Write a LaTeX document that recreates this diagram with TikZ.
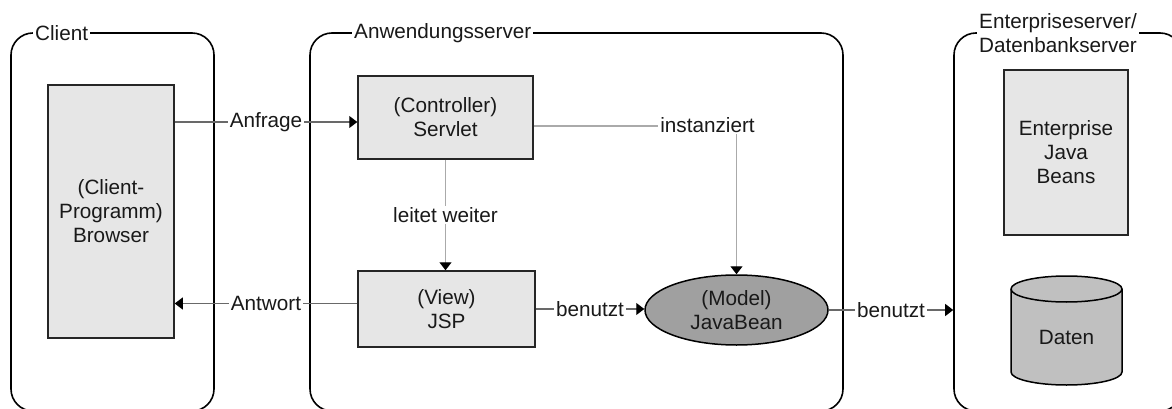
\documentclass[tikz,border=0pt]{standalone}
\usepackage{fontspec}
\setmainfont{Liberation Sans}
\usetikzlibrary{arrows.meta,shapes.geometric}
\definecolor{boxfill}{RGB}{230,230,230}
\definecolor{modelfill}{RGB}{160,160,160}
\definecolor{dbfill}{RGB}{192,192,192}
\definecolor{txt}{RGB}{25,25,25}
\definecolor{darkline}{RGB}{105,105,105}
\definecolor{lightline}{RGB}{170,170,170}
\begin{document}
\begin{tikzpicture}[x=1pt,y=1pt,
  font=\fontsize{20.7}{24}\selectfont, text=txt,
  container/.style={draw=black, line width=1.6pt, rounded corners=22pt, inner sep=0pt},
  box/.style={draw=black!85, line width=1.5pt, fill=boxfill, align=center, inner sep=0pt},
  title/.style={fill=white, inner xsep=2pt, inner ysep=1pt},
  lbl/.style={fill=white, inner xsep=2pt, inner ysep=1pt},
  conn/.style={draw=darkline, line width=1.1pt},
  conn2/.style={draw=lightline, line width=1.4pt},
  arr/.style={-{Triangle[length=8pt,width=12pt,color=black]}}
]
\clip (0,0) rectangle (1172,-409);
\fill[white] (0,0) rectangle (1172,-409);

% containers
\node[container, minimum width=203pt, minimum height=378pt] (client) at (112.5,-222) {};
\node[container, minimum width=533pt, minimum height=378pt] (anw) at (576.5,-222) {};
\node[container, minimum width=228pt, minimum height=378pt] (ent) at (1068,-222) {};

\node[title, anchor=west] (tclient) at (33,-33) {Client};
\node[title, anchor=west] (tanw) at (352,-33) {Anwendungsserver};
\node[title, align=center] (tent) at (1058,-33.5) {Enterpriseserver/\\Datenbankserver};

% boxes
\node[box, minimum width=126pt, minimum height=253pt] (browser) at (111,-211.5) {(Client-\\Programm)\\Browser};
\node[box, minimum width=175pt, minimum height=83pt] (servlet) at (445.5,-117.5) {(Controller)\\Servlet};
\node[box, minimum width=177pt, minimum height=76pt] (jsp) at (446.5,-309) {(View)\\JSP};
\node[ellipse, draw=black, line width=1.5pt, fill=modelfill, align=center, inner sep=0pt,
      minimum width=183pt, minimum height=70pt] (model) at (736.5,-310) {(Model)\\JavaBean};
\node[box, minimum width=124pt, minimum height=165pt] (ejb) at (1066,-152.5) {Enterprise\\Java\\Beans};

% database cylinder
\path[draw=black, line width=1.5pt, fill=dbfill]
  (1011,-289) -- (1011,-372)
  arc[start angle=180, end angle=360, x radius=55.5pt, y radius=13pt]
  -- (1122,-289)
  arc[start angle=0, end angle=180, x radius=55.5pt, y radius=13pt] -- cycle;
\draw[black, line width=1.5pt] (1011,-289)
  arc[start angle=180, end angle=360, x radius=55.5pt, y radius=13pt];
\node (daten) at (1066.5,-337) {Daten};

% connectors
\coordinate (aR) at ([yshift=-4.5pt]servlet.west);
\draw[conn, arr] (aR -| browser.east) -- node[lbl] {Anfrage} (aR);

\coordinate (wL) at ([yshift=5.5pt]jsp.west);
\draw[conn, arr] (wL) -- node[lbl] {Antwort} (wL -| browser.east);

\draw[conn2, arr] (servlet.south) -- node[lbl] {leitet weiter} (servlet.south |- jsp.north);

\coordinate (iS) at ([yshift=-8.5pt]servlet.east);
\draw[conn2, arr] (iS) -| (model.north);
\node[lbl] (inst) at (707.5,-125) {instanziert};

\draw[conn, arr] (jsp.east) -- node[lbl] {benutzt} (jsp.east -| model.west);
\draw[conn, arr] (model.east) -- node[lbl] {benutzt} (model.east -| ent.west);
\end{tikzpicture}
\end{document}
